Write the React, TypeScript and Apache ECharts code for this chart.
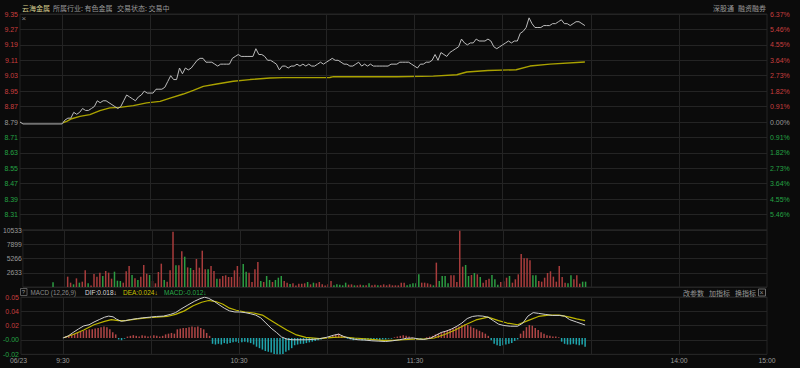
import React, { useEffect, useRef } from "react";
import * as echarts from "echarts";

// ---------- data ----------
const PREV_CLOSE = 8.79;
// x axis: trading minutes since 9:30 (11:30 = 120, 15:00 = 240); negative = call auction area
const X_MIN = -14.3;
const X_MAX = 240;
const xTickValues = [-14.3, 0, 60, 120, 210, 240];
const xTickLabels = ["06/23", "9:30", "10:30", "11:30", "14:00", "15:00"];
const gridMinutes = [0, 30, 60, 90, 120, 150, 180, 210];

const priceMin = 8.23;
const priceMax = 9.35;
const priceStep = 0.08;

const auctionLine: [number, number][] = [[-14.3, 8.79], [-13.3, 8.78]];
// one price per minute, minute 0 (9:30) .. 178 (13:58)
const prices = [
  8.78, 8.80, 8.81, 8.81, 8.84, 8.83, 8.84, 8.86, 8.85, 8.85,
  8.86, 8.87, 8.90, 8.89, 8.90, 8.90, 8.89, 8.88, 8.87, 8.86,
  8.87, 8.90, 8.93, 8.92, 8.91, 8.90, 8.92, 8.93, 8.95, 8.94,
  8.94, 8.94, 8.96, 8.96, 8.96, 8.97, 9.00, 9.03, 9.01, 9.01,
  9.07, 9.04, 9.07, 9.06, 9.07, 9.09, 9.11, 9.12, 9.12, 9.10,
  9.10, 9.10, 9.09, 9.08, 9.09, 9.09, 9.09, 9.09, 9.12, 9.13,
  9.14, 9.13, 9.13, 9.13, 9.13, 9.13, 9.17, 9.14, 9.14, 9.13,
  9.11, 9.11, 9.10, 9.09, 9.06, 9.08, 9.08, 9.07, 9.08, 9.08,
  9.09, 9.08, 9.09, 9.08, 9.09, 9.08, 9.08, 9.09, 9.10, 9.09,
  9.10, 9.11, 9.12, 9.11, 9.11, 9.10, 9.09, 9.09, 9.08, 9.08,
  9.09, 9.10, 9.08, 9.09, 9.08, 9.09, 9.08, 9.08, 9.08, 9.08,
  9.08, 9.08, 9.09, 9.09, 9.09, 9.10, 9.10, 9.10, 9.10, 9.09,
  9.08, 9.07, 9.09, 9.09, 9.10, 9.10, 9.11, 9.14, 9.11, 9.15,
  9.14, 9.13, 9.15, 9.16, 9.17, 9.18, 9.22, 9.20, 9.19, 9.20,
  9.20, 9.22, 9.21, 9.21, 9.21, 9.22, 9.21, 9.18, 9.17, 9.18,
  9.19, 9.20, 9.21, 9.20, 9.21, 9.21, 9.25, 9.26, 9.28, 9.33,
  9.30, 9.28, 9.28, 9.28, 9.29, 9.29, 9.29, 9.30, 9.30, 9.31,
  9.32, 9.30, 9.30, 9.29, 9.30, 9.31, 9.31, 9.30, 9.29,
];
// average price line, [minute, price]
const avgPoints: [number, number][] = [
  [0, 8.785], [1.6, 8.793], [3.3, 8.807], [6.1, 8.819], [9.5, 8.828], [12.9, 8.849],
  [16.3, 8.863], [19.7, 8.866], [24.3, 8.875], [28.8, 8.889], [33.4, 8.897], [36.8, 8.914],
  [41.3, 8.935], [44.7, 8.954], [48.1, 8.975], [52.7, 8.987], [58.3, 9.001], [64, 9.01],
  [70.8, 9.018], [75.3, 9.02], [91.2, 9.021], [92.4, 9.025], [113.9, 9.025], [126.4, 9.028],
  [134.4, 9.035], [137.8, 9.049], [145, 9.057], [154.6, 9.061], [159.3, 9.08], [166.1, 9.09],
  [178, 9.101],
];

const volMax = 10533;
const volStep = 2633.25;
const auctionVolume = { minute: -4, volume: 900, up: 0 };
// volume per minute, minute 1 .. 178
const volumes = [
  1910, 800, 490, 1600, 800, 985, 3080, 680, 300, 2400,
  1910, 2650, 2030, 2960, 2650, 1540, 2830, 1170, 1110, 800,
  2900, 3880, 2220, 1600, 1290, 1910, 4070, 2460, 2220, 1110,
  680, 2770, 4310, 1290, 985, 3080, 10230, 4000, 4000, 6590,
  5600, 3630, 3510, 3140, 5170, 3570, 6710, 3260, 3260, 3880,
  2960, 1540, 1540, 2030, 2160, 1850, 1850, 3080, 3880, 1910,
  4250, 2830, 2650, 920, 3260, 4620, 1110, 920, 2030, 1290,
  920, 1290, 1720, 2030, 1110, 800, 550, 680, 300, 615,
  615, 680, 920, 490, 800, 680, 920, 490, 300, 490,
  1110, 310, 490, 430, 310, 800, 430, 490, 310, 310,
  430, 310, 310, 680, 310, 430, 310, 310, 490, 310,
  490, 310, 310, 310, 800, 800, 310, 490, 680, 680,
  2340, 800, 800, 680, 490, 310, 4500, 1110, 2030, 2030,
  680, 2160, 2160, 920, 10410, 3760, 4070, 2030, 2220, 2590,
  2340, 1850, 800, 1290, 1540, 2220, 1420, 430, 920, 1050,
  1720, 2030, 800, 1420, 2340, 6100, 5300, 5300, 4930, 2160,
  2160, 1110, 985, 1720, 2590, 2900, 1910, 985, 3880, 1850,
  800, 680, 2160, 1420, 2160, 615, 985, 985,
];
// 1 = up (red), 0 = down (green)
const volumeUp = [
  1, 1, 0, 1, 0, 1, 1, 0, 1, 1,
  1, 1, 0, 1, 1, 1, 0, 0, 0, 1,
  1, 1, 0, 1, 0, 1, 1, 1, 0, 1,
  1, 1, 1, 0, 1, 1, 1, 0, 1, 1,
  0, 1, 0, 1, 1, 1, 1, 1, 0, 1,
  1, 0, 1, 1, 1, 1, 1, 1, 1, 1,
  0, 0, 1, 1, 1, 1, 0, 1, 0, 0,
  1, 0, 0, 0, 1, 1, 0, 1, 1, 1,
  1, 1, 0, 1, 0, 1, 1, 1, 1, 1,
  1, 0, 0, 0, 0, 0, 1, 1, 0, 1,
  1, 0, 1, 0, 1, 1, 0, 1, 1, 1,
  1, 1, 1, 1, 1, 1, 0, 0, 0, 0,
  0, 1, 1, 1, 1, 0, 1, 0, 0, 0,
  0, 1, 1, 1, 1, 1, 0, 0, 1, 0,
  1, 0, 1, 1, 1, 0, 0, 0, 1, 1,
  1, 0, 1, 1, 1, 1, 1, 1, 1, 0,
  0, 1, 1, 1, 1, 1, 1, 1, 1, 1,
  1, 0, 0, 1, 1, 1, 0, 0,
];

// MACD axis
const macdMin = -0.0225;
const macdMax = 0.0567;
const macdStep = 0.0198;
const macdTickLabels = ["-0.02", "-0.00", "0.02", "0.04", "0.05"];
// MACD histogram per minute 0 .. 178
const macdHist = [
  0, 0.002, 0.004, 0.005, 0.006, 0.008, 0.009, 0.010, 0.011, 0.012,
  0.012, 0.013, 0.014, 0.015, 0.016, 0.015, 0.012, 0.008, 0.005, -0.002,
  -0.003, -0.001, 0.002, 0.003, 0.004, 0.003, 0.002, 0.004, 0.003, 0.002,
  0.003, 0.004, 0.003, 0.002, 0.003, 0.005, 0.006, 0.007, 0.006, 0.012,
  0.013, 0.014, 0.014, 0.015, 0.016, 0.015, 0.016, 0.014, 0.012, 0.007,
  0.003, -0.008, -0.009, -0.008, -0.009, -0.007, -0.008, -0.007, -0.006, -0.005,
  -0.007, -0.006, -0.005, -0.006, -0.007, -0.009, -0.012, -0.014, -0.016, -0.018,
  -0.019, -0.020, -0.022, -0.023, -0.024, -0.022, -0.019, -0.017, -0.014, -0.010,
  -0.009, -0.008, -0.008, -0.007, -0.006, -0.005, -0.004, -0.003, -0.002, 0,
  0.001, 0.002, 0.004, 0.005, 0.006, 0.004, 0.002, -0.001, -0.002, -0.003,
  -0.002, -0.002, -0.003, -0.003, -0.002, -0.003, -0.002, -0.002, -0.003, -0.002,
  -0.002, -0.001, -0.001, 0.001, 0.002, 0.003, 0.004, 0.003, 0.002, 0.001,
  0, -0.001, -0.001, 0, 0.001, 0.002, 0.003, 0.005, 0.006, 0.008,
  0.009, 0.011, 0.012, 0.013, 0.015, 0.016, 0.018, 0.019, 0.018, 0.016,
  0.014, 0.012, 0.010, 0.008, 0.006, 0.003, -0.003, -0.008, -0.010, -0.011,
  -0.010, -0.009, -0.008, -0.007, -0.004, -0.002, 0.006, 0.010, 0.015, 0.018,
  0.017, 0.014, 0.011, 0.008, 0.006, 0.004, 0.003, 0.002, 0.002, 0.001,
  -0.005, -0.008, -0.009, -0.009, -0.008, -0.009, -0.010, -0.009, -0.012,
];
const difPoints: [number, number][] = [
  [0, 0], [1.8, 0.0029], [3.5, 0.0077], [5.3, 0.0125], [7.1, 0.0168], [8.9, 0.0183],
  [10.6, 0.0221], [12.4, 0.0255], [14.2, 0.0288], [15.6, 0.0303], [17.1, 0.0293], [18.3, 0.026],
  [19.9, 0.0231], [21.3, 0.024], [23.1, 0.0255], [25.4, 0.0269], [27.2, 0.0279], [29.6, 0.0288],
  [31.9, 0.0298], [34.3, 0.0303], [36.7, 0.0327], [38.4, 0.0351], [40.2, 0.0399], [42.6, 0.0456],
  [44.9, 0.0509], [46.7, 0.0543], [48.3, 0.0565], [49.7, 0.0548], [51.5, 0.0509], [53.2, 0.0461],
  [55, 0.0413], [56.8, 0.0375], [58.6, 0.036], [60.3, 0.036], [62.1, 0.0351], [63.9, 0.0336],
  [65.7, 0.0317], [67.4, 0.0279], [69.2, 0.0207], [71, 0.0135], [72.8, 0.0077], [74.5, 0.0015],
  [76.3, -0.0014], [78.1, -0.0024], [82.8, -0.0024], [85.2, -0.0019], [87.5, -0.0009], [89.9, 0.001],
  [92.3, 0.0039], [94, 0.0053], [95.8, 0.002], [98.2, -0.0009], [100.6, -0.0024], [102.9, -0.0028],
  [105.3, -0.0038], [107.7, -0.0043], [110, -0.0048], [112.4, -0.0038], [114.8, -0.0024], [117.1, -0.0004],
  [119.5, 0], [121.3, -0.0014], [123, -0.0019], [125.4, 0], [127.2, 0.0039], [129, 0.0077],
  [130.7, 0.0096], [132.5, 0.0125], [134.3, 0.0163], [136, 0.0207], [137.8, 0.0269], [139.6, 0.0298],
  [141.4, 0.0307], [143.1, 0.0303], [144.9, 0.0288], [146.7, 0.024], [148.5, 0.0192], [150.3, 0.0173],
  [152.6, 0.0163], [155, 0.0163], [156.8, 0.0207], [158.5, 0.0303], [160.3, 0.0351], [162.1, 0.0341],
  [164.4, 0.0327], [166.8, 0.0312], [169.2, 0.0312], [171, 0.0303], [172.7, 0.0255], [175.1, 0.0221],
  [178, 0.018],
];
const deaPoints: [number, number][] = [
  [0, 0], [3.5, 0.0048], [7.1, 0.011], [10.6, 0.0183], [14.2, 0.0231], [16.5, 0.0255],
  [18.9, 0.024], [21.3, 0.024], [24.8, 0.026], [28.4, 0.0279], [31.9, 0.0288], [35.5, 0.0298],
  [38.4, 0.0327], [41.4, 0.0375], [44.4, 0.0447], [47.3, 0.0495], [49.7, 0.0519], [52.1, 0.0504],
  [54.4, 0.0471], [56.8, 0.0413], [59.1, 0.0384], [62.1, 0.036], [65.1, 0.0346], [68, 0.0317],
  [70.4, 0.0255], [73.3, 0.0183], [76.3, 0.011], [79.3, 0.0048], [82.8, 0.001], [87.5, -0.0009],
  [92.3, 0.001], [95.8, 0.0014], [99.4, 0], [104.1, -0.0014], [108.8, -0.0033], [112.4, -0.0033],
  [115.9, -0.0024], [119.5, -0.0014], [123, -0.0014], [126.6, 0], [130.1, 0.0048], [133.7, 0.011],
  [137.2, 0.0183], [140.8, 0.025], [144.9, 0.0288], [148.5, 0.024], [151.4, 0.0207], [155, 0.0183],
  [158.5, 0.024], [162.1, 0.0298], [165.6, 0.0317], [169.2, 0.0317], [172.7, 0.0288], [175.1, 0.0264],
  [178, 0.024],
];

// ---------- style ----------
const BG = "#0b0b0b";
const GRID = "#242424";
const TXT = "#9a9a9a";
const LBL_RED = "#c83e3e";
const LBL_GREEN = "#24a244";
const VOL_RED = "#a83c3c";
const VOL_GREEN = "#2c9c42";
const HIST_RED = "#b04646";
const HIST_CYAN = "#1fa6ae";
const PRICE_LINE = "#bdbdbd";
const AVG_LINE = "#aaa200";
const FONT = "'Liberation Sans', Arial, 'DejaVu Sans', 'Noto Sans CJK SC', sans-serif";
const CJK = "'Noto Sans CJK SC', 'Liberation Sans', sans-serif";

const vLines = () => ({
  silent: true,
  symbol: ["none", "none"],
  label: { show: false },
  lineStyle: { color: GRID, width: 1, type: "solid" },
  emphasis: { disabled: true },
  data: gridMinutes.map((m) => ({ xAxis: m })),
});

const txt = (text: string, x: number, y: number, fill: string, size = 7, family = CJK) => ({
  type: "text",
  silent: true,
  style: {
    text, x, y, fill,
    fontSize: size, fontFamily: family,
    align: "left", verticalAlign: "middle",
    textAlign: "left", textVerticalAlign: "middle",
  },
});

function buildOption() {
  const priceData = [...auctionLine, ...prices.map((p, k) => [k, p])];
  const volData = [
    { value: [auctionVolume.minute, auctionVolume.volume], itemStyle: { color: auctionVolume.up ? VOL_RED : VOL_GREEN } },
    ...volumes.map((v, i) => ({ value: [i + 1, v], itemStyle: { color: volumeUp[i] ? VOL_RED : VOL_GREEN } })),
  ];
  const histData = macdHist.map((v, k) => ({ value: [k, v], itemStyle: { color: v >= 0 ? HIST_RED : HIST_CYAN } }));

  const gridBase = { left: 20, width: 747, show: true, borderColor: GRID, borderWidth: 1, backgroundColor: "transparent" };
  const priceColor = (v: number) => (Math.abs(v - PREV_CLOSE) < 0.001 ? TXT : v > PREV_CLOSE ? LBL_RED : LBL_GREEN);

  return {
    backgroundColor: BG,
    animation: false,
    grid: [
      { ...gridBase, top: 14, height: 216 },
      { ...gridBase, top: 230, height: 57 },
      { ...gridBase, top: 297, height: 57.3 },
    ],
    xAxis: [0, 1, 2].map((i) => ({
      type: "value",
      gridIndex: i,
      min: X_MIN,
      max: X_MAX,
      axisLine: { show: false },
      axisTick: { show: false },
      splitLine: { show: false },
      axisLabel:
        i === 2
          ? {
              show: true,
              customValues: xTickValues,
              showMinLabel: true,
              showMaxLabel: true,
              margin: 3,
              color: TXT,
              fontSize: 6.8,
              fontFamily: FONT,
              formatter: (v: number) => {
                let best = 0;
                xTickValues.forEach((t, j) => {
                  if (Math.abs(t - v) < Math.abs(xTickValues[best] - v)) best = j;
                });
                return best === 0 ? "{first|" + xTickLabels[0] + "}" : xTickLabels[best];
              },
              rich: { first: { color: TXT, fontSize: 6.8, fontFamily: FONT, padding: [0, 5, 0, 0] } },
            }
          : { show: false },
    })),
    yAxis: [
      {
        type: "value", gridIndex: 0, position: "left",
        min: priceMin, max: priceMax, interval: priceStep,
        axisLine: { show: false }, axisTick: { show: false },
        splitLine: { show: true, lineStyle: { color: GRID, width: 1 } },
        axisLabel: {
          showMinLabel: false, margin: 2, fontSize: 7, fontFamily: FONT,
          formatter: (v: number) => v.toFixed(2),
          color: (v: any) => priceColor(Number(v)),
        },
      },
      {
        type: "value", gridIndex: 0, position: "right",
        min: priceMin, max: priceMax, interval: priceStep,
        axisLine: { show: false }, axisTick: { show: false },
        splitLine: { show: false },
        axisLabel: {
          showMinLabel: false, margin: 3, fontSize: 7, fontFamily: FONT,
          formatter: (v: number) => Math.abs(((v - PREV_CLOSE) / PREV_CLOSE) * 100).toFixed(2) + "%",
          color: (v: any) => priceColor(Number(v)),
        },
      },
      {
        type: "value", gridIndex: 1, position: "left",
        min: 0, max: volMax, interval: volStep,
        axisLine: { show: false }, axisTick: { show: false },
        splitLine: { show: true, lineStyle: { color: GRID, width: 1 } },
        axisLabel: {
          showMinLabel: false, margin: 1, fontSize: 6.8, fontFamily: FONT, color: TXT,
          formatter: (v: number) => String(Math.floor(v + 1e-6)),
        },
      },
      {
        type: "value", gridIndex: 2, position: "left",
        min: macdMin, max: macdMax, interval: macdStep,
        axisLine: { show: false }, axisTick: { show: false },
        splitLine: { show: true, lineStyle: { color: GRID, width: 1 } },
        axisLabel: {
          margin: 2, fontSize: 7, fontFamily: FONT,
          formatter: (v: number, i: number) => macdTickLabels[i] ?? "",
          color: (v: any, i: number) => ((macdTickLabels[i] || "").startsWith("-") ? LBL_GREEN : LBL_RED),
        },
      },
    ],
    series: [
      {
        type: "line", name: "price", xAxisIndex: 0, yAxisIndex: 0,
        data: priceData, showSymbol: false, symbol: "none",
        lineStyle: { color: PRICE_LINE, width: 1 },
        z: 5,
        markLine: vLines(),
      },
      {
        type: "line", name: "avg", xAxisIndex: 0, yAxisIndex: 0,
        data: avgPoints, showSymbol: false, symbol: "none",
        lineStyle: { color: AVG_LINE, width: 1.4 },
        z: 4,
      },
      {
        type: "bar", name: "volume", xAxisIndex: 1, yAxisIndex: 2,
        data: volData, barWidth: 1.5,
        markLine: vLines(),
      },
      {
        type: "bar", name: "macd", xAxisIndex: 2, yAxisIndex: 3,
        data: histData, barWidth: 1.5,
        markLine: vLines(),
      },
      {
        type: "line", name: "DIF", xAxisIndex: 2, yAxisIndex: 3,
        data: difPoints, showSymbol: false, symbol: "none",
        lineStyle: { color: "#cfcfcf", width: 1 }, z: 5,
      },
      {
        type: "line", name: "DEA", xAxisIndex: 2, yAxisIndex: 3,
        data: deaPoints, showSymbol: false, symbol: "none",
        lineStyle: { color: "#bdb500", width: 1.2 }, z: 4,
      },
    ],
    graphic: [
      txt("云海金属", 22, 8, "#d4cd8e"),
      txt("所属行业: 有色金属", 53, 8, TXT),
      txt("交易状态: 交易中", 117, 8, TXT),
      txt("深股通", 713, 8, TXT),
      txt("融资融券", 738, 8, TXT),
      txt("×", 21.5, 18.5, "#8a8a8a", 8, FONT),
      {
        type: "rect", silent: true,
        shape: { x: 20.5, y: 288.5, width: 6.5, height: 7 },
        style: { fill: "none", stroke: "#5a5a5a", lineWidth: 1 },
      },
      txt("?", 21.8, 292.2, "#9a9a9a", 6, FONT),
      txt("MACD (12,26,9)", 30.5, 292, "#8a8a8a", 6.3, FONT),
      txt("DIF:0.018↓", 85, 292, "#d8d8d8", 6.5, FONT),
      txt("DEA:0.024↓", 123, 292, "#c8c000", 6.5, FONT),
      txt("MACD:-0.012↓", 164, 292, "#2aa84a", 6.5, FONT),
      txt("改参数", 683, 292.5, TXT),
      txt("加指标", 709, 292.5, TXT),
      txt("换指标", 735, 292.5, TXT),
      {
        type: "rect", silent: true,
        shape: { x: 758.5, y: 289, width: 7, height: 7 },
        style: { fill: "none", stroke: "#6a6a6a", lineWidth: 1 },
      },
      txt("×", 759.6, 292.4, "#8a8a8a", 7, FONT),
    ],
  };
}

export default function App() {
  const ref = useRef<HTMLDivElement>(null);
  useEffect(() => {
    if (!ref.current) return;
    const chart = echarts.init(ref.current, null, { renderer: "svg" });
    chart.setOption(buildOption() as any);
    return () => chart.dispose();
  }, []);
  return (
    <div
      ref={ref}
      style={{ position: "fixed", left: 0, top: 0, width: 800, height: 368, background: BG }}
    />
  );
}
